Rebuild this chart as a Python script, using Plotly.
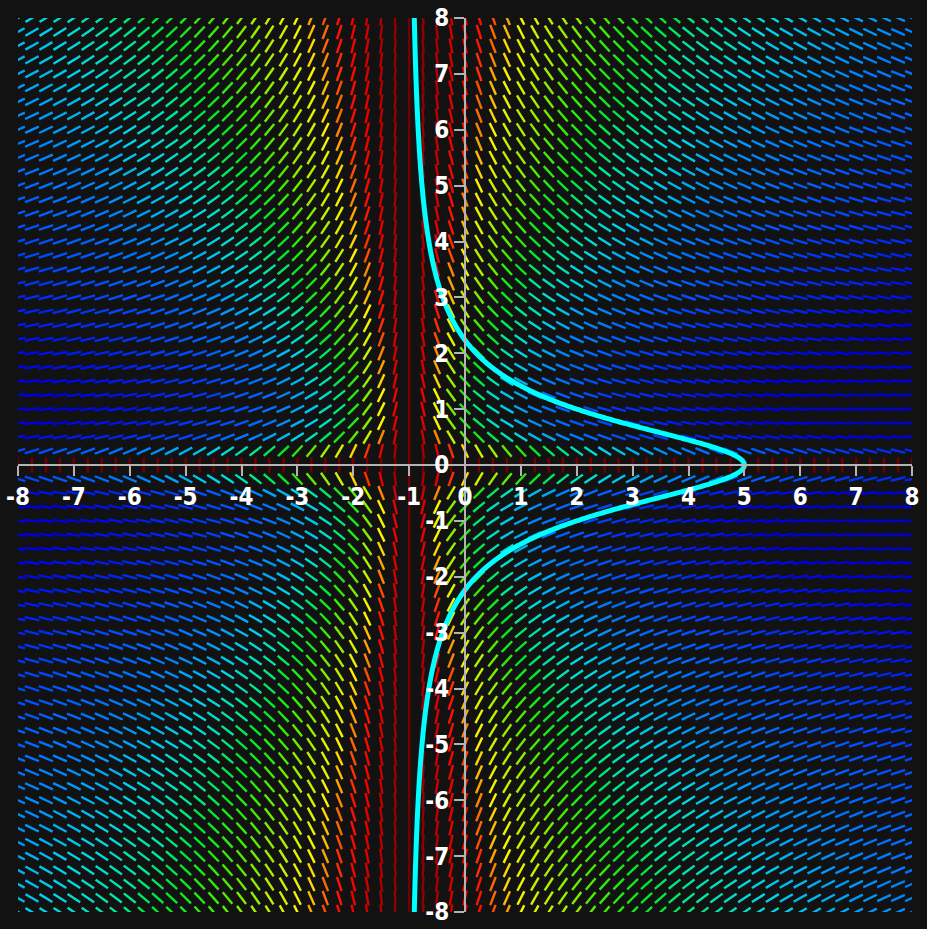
import numpy as np
import plotly.graph_objects as go

# ---- data: slope field of dy/dx = -(1+y^2) / (2*y*(x+1)) ----
X_RANGE = [-8, 8]
Y_RANGE = [-8, 8]
GRID_STEP = 0.25
TICK_VALUES = list(range(-8, 9))
TICK_LABELS = [str(v) for v in TICK_VALUES]
CURVE_C = 6.0          # solution (x+1)(1+y^2) = C  -> passes through (5, 0)

# colour stops by slope angle (0 = flat, 1 = vertical)
STOP_T = [0.00, 0.10, 0.20, 0.26, 0.31, 0.35, 0.42, 0.47, 0.55, 0.62,
          0.71, 0.75, 0.80, 0.85, 0.92, 1.00]
STOP_RGB = [(0, 0, 140), (0, 0, 228), (0, 80, 255), (0, 125, 255), (0, 175, 245),
            (0, 215, 235), (0, 232, 150), (0, 232, 40), (70, 236, 0), (165, 240, 0),
            (255, 245, 0), (255, 150, 0), (255, 20, 0), (235, 0, 0), (170, 0, 0),
            (115, 0, 0)]

BG = "#121212"
SEG_HALF = 0.135
N_BINS = 90

xs = np.arange(X_RANGE[0], X_RANGE[1] + 1e-9, GRID_STEP)
ys = np.arange(Y_RANGE[0], Y_RANGE[1] + 1e-9, GRID_STEP)
GX, GY = np.meshgrid(xs, ys)
DX = 2 * GY * (GX + 1)
DY = -(1 + GY ** 2)
NORM = np.hypot(DX, DY)
UX = DX / NORM
UY = DY / NORM
T = np.arctan2(np.abs(DY), np.abs(DX)) / (np.pi / 2)
BINS = np.clip(np.round(T * N_BINS).astype(int), 0, N_BINS)


def color_at(t):
    r = np.interp(t, STOP_T, [c[0] for c in STOP_RGB])
    g = np.interp(t, STOP_T, [c[1] for c in STOP_RGB])
    b = np.interp(t, STOP_T, [c[2] for c in STOP_RGB])
    return f"rgb({int(r)},{int(g)},{int(b)})"


fig = go.Figure()
for b in range(N_BINS + 1):
    mask = BINS == b
    if not mask.any():
        continue
    px_, py_ = [], []
    for x0, y0, ux, uy in zip(GX[mask], GY[mask], UX[mask], UY[mask]):
        px_ += [x0 - SEG_HALF * ux, x0 + SEG_HALF * ux, None]
        py_ += [y0 - SEG_HALF * uy, y0 + SEG_HALF * uy, None]
    fig.add_trace(go.Scatter(x=px_, y=py_, mode="lines",
                             line=dict(color=color_at(b / N_BINS), width=2.4,
                                       simplify=False),
                             hoverinfo="skip", showlegend=False))

curve_y = np.linspace(Y_RANGE[0], Y_RANGE[1], 1601)
curve_x = -1 + CURVE_C / (1 + curve_y ** 2)
fig.add_trace(go.Scatter(x=curve_x, y=curve_y, mode="lines",
                         line=dict(color="#00ffff", width=5, simplify=False),
                         hoverinfo="skip", showlegend=False))

FONT = dict(family="DejaVu Sans Condensed, Liberation Sans Narrow, sans-serif",
            size=24, color="white", weight="bold")
axis_common = dict(showgrid=False, zeroline=False, showline=True,
                   linecolor="#b4b4b4", linewidth=2, ticks="outside",
                   ticklen=10, tickwidth=2, tickcolor="#b4b4b4",
                   tickvals=TICK_VALUES, ticktext=TICK_LABELS,
                   tickfont=FONT, anchor="free", position=0.5,
                   automargin=False, fixedrange=True)

fig.update_layout(
    width=927, height=929,
    margin=dict(l=18, r=15, t=18, b=17),
    paper_bgcolor=BG, plot_bgcolor=BG,
    xaxis=dict(range=X_RANGE, side="bottom", **axis_common),
    yaxis=dict(range=Y_RANGE, side="left", **axis_common),
)
fig.write_html("out.html")
